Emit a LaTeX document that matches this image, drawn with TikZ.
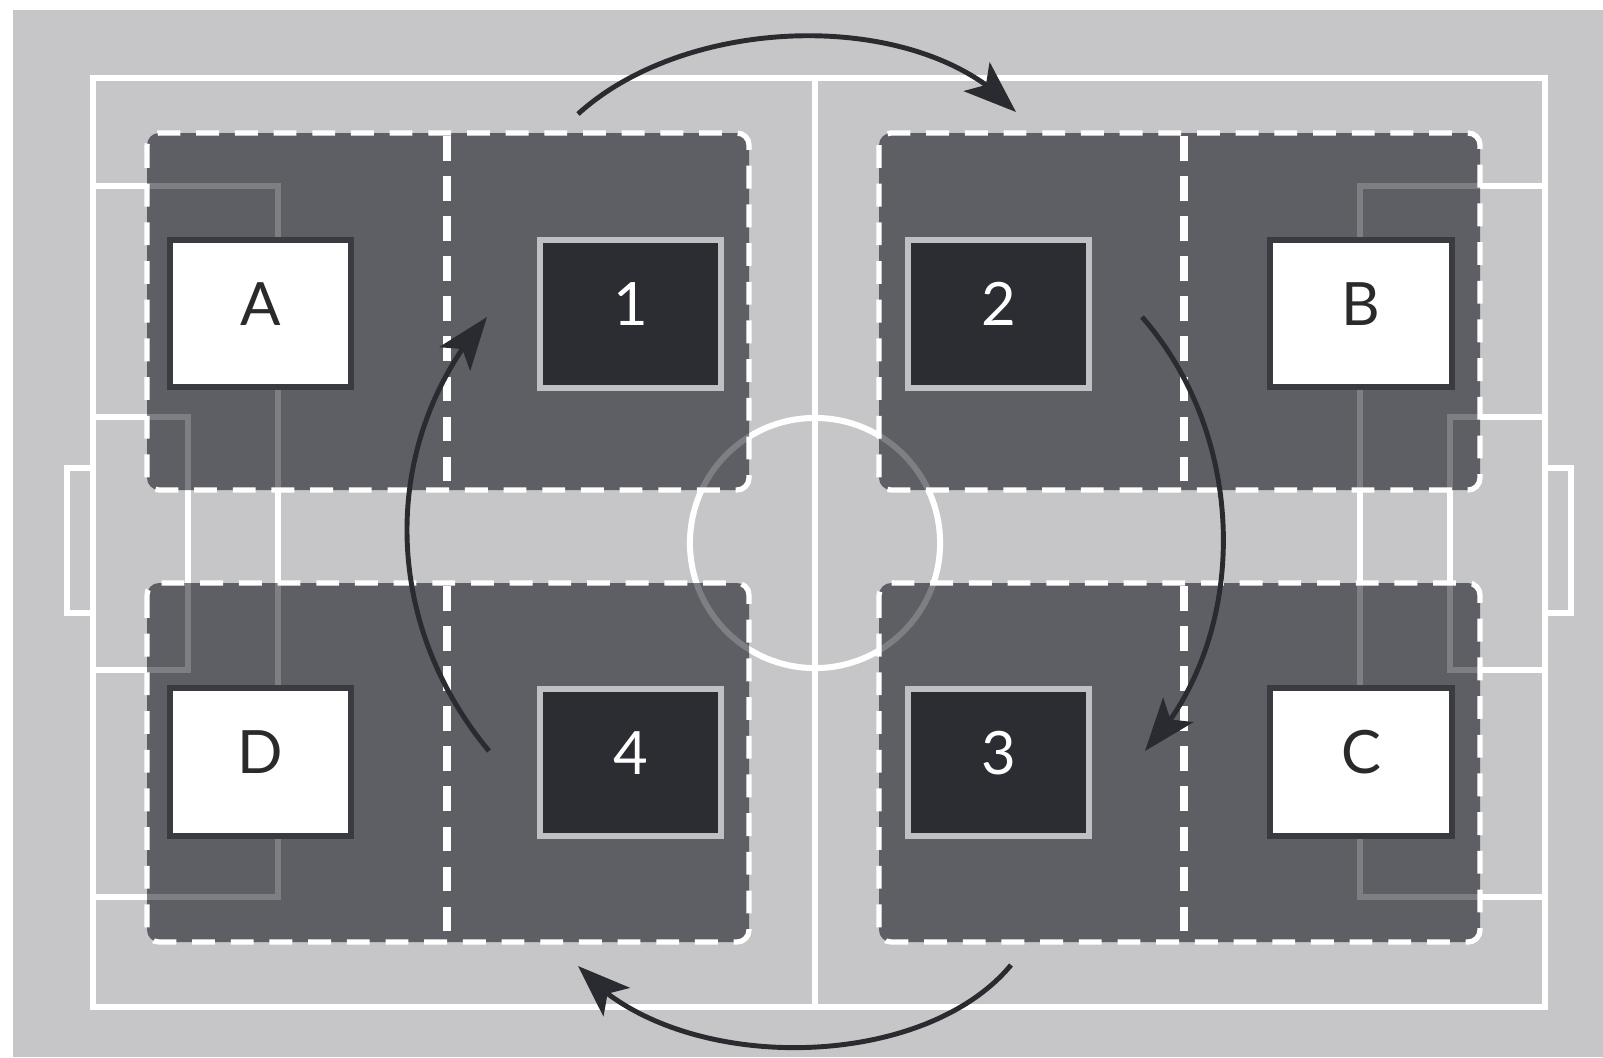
\documentclass[tikz,border=0pt]{standalone}
\usepackage{fontspec}
\setmainfont{Lato}
\usetikzlibrary{arrows.meta,bending}
\definecolor{bgc}{HTML}{C6C6C8}
\definecolor{zonec}{HTML}{5E5F65}
\definecolor{darkbox}{HTML}{2B2D33}
\definecolor{boxedge}{HTML}{BFC0C3}
\definecolor{edgeA}{HTML}{3A3B40}
\definecolor{arrowc}{HTML}{2A2B30}
\definecolor{txtdark}{HTML}{2A2A2C}
\newcommand\pitchlines[1]{%
  \draw[#1] (93,-78) rectangle (1545,-1007);
  \draw[#1] (815,-78) -- (815,-1007);
  \draw[#1] (815,-543) circle[radius=1.25cm];
  \draw[#1] (93,-186) -| (278,-897) -- (93,-897);
  \draw[#1] (93,-417) -| (188,-670) -- (93,-670);
  \draw[#1] (93,-468) -| (67,-613) -- (93,-613);
  \draw[#1] (1545,-186) -| (1360,-897) -- (1545,-897);
  \draw[#1] (1545,-417) -| (1450,-670) -- (1545,-670);
  \draw[#1] (1545,-468) -| (1571,-613) -- (1545,-613);
}
\tikzset{
  fieldline/.style={draw=white, line width=1.7pt},
  fieldghost/.style={draw=white, draw opacity=0.2, line width=1.7pt},
  zonefill/.style={fill=zonec, rounded corners=0.12cm},
  zoneedge/.style={draw=white, line width=1.5pt, dash pattern=on 6.5pt off 4.5pt, rounded corners=0.12cm},
  divider/.style={draw=white, line width=2.3pt, dash pattern=on 7pt off 4.4pt},
  boxbase/.style={minimum width=1.81cm, minimum height=1.47cm, line width=1.7pt,
    inner sep=0pt, text height=0.42cm, text depth=0.19cm,
    font=\fontsize{17pt}{20pt}\selectfont},
  letterbox/.style={boxbase, draw=edgeA, fill=white, text=txtdark},
  numberbox/.style={boxbase, draw=boxedge, fill=darkbox, text=white},
  arr/.style={draw=arrowc, line width=1.4pt, -{Stealth[length=15pt,width=11pt,inset=3.5pt,flex]}}
}
\begin{document}
\begin{tikzpicture}[x=0.01cm, y=0.01cm]
\useasboundingbox (0,0) rectangle (1603,-1057);
\fill[white] (0,0) rectangle (1603,-1057);
\fill[bgc] (13,-10) rectangle (1603,-1057);
% pitch
\pitchlines{fieldline}
% zones
\fill[zonefill] (147,-133) rectangle (749,-490);
\fill[zonefill] (147,-583) rectangle (749,-942);
\fill[zonefill] (879,-133) rectangle (1480,-490);
\fill[zonefill] (879,-583) rectangle (1480,-942);
\pitchlines{fieldghost}
\draw[zoneedge] (147,-133) rectangle (749,-490);
\draw[zoneedge] (147,-583) rectangle (749,-942);
\draw[zoneedge] (879,-133) rectangle (1480,-490);
\draw[zoneedge] (879,-583) rectangle (1480,-942);
\draw[divider] (447,-136) -- (447,-487);
\draw[divider] (447,-586) -- (447,-939);
\draw[divider] (1184,-136) -- (1184,-487);
\draw[divider] (1184,-586) -- (1184,-939);
% boxes
\node[letterbox] (A) at (260.5,-313.5) {A};
\node[letterbox] (D) at (260.5,-762) {D};
\node[numberbox] (n1) at (630.5,-314) {1};
\node[numberbox] (n4) at (630.5,-762.5) {4};
\node[numberbox] (n2) at (998.5,-314) {2};
\node[numberbox] (n3) at (998.5,-762.5) {3};
\node[letterbox] (B) at (1361,-313.5) {B};
\node[letterbox] (C) at (1361,-762) {C};
% rotation arrows
\coordinate (ts) at (578,-114);
\coordinate (te) at (1016,-112);
\coordinate (rs) at (1142,-317);
\coordinate (re) at (1145,-751);
\coordinate (bs) at (1011,-965);
\coordinate (be) at (578,-966);
\coordinate (ls) at (489,-751);
\coordinate (le) at (487,-317);
\draw[arr] (ts) .. controls (690,-12) and (925,-8) .. (te);
\draw[arr] (rs) .. controls (1250,-440) and (1250,-640) .. (re);
\draw[arr] (bs) .. controls (920,-1075) and (670,-1075) .. (be);
\draw[arr] (ls) .. controls (380,-620) and (380,-440) .. (le);
\end{tikzpicture}
\end{document}
